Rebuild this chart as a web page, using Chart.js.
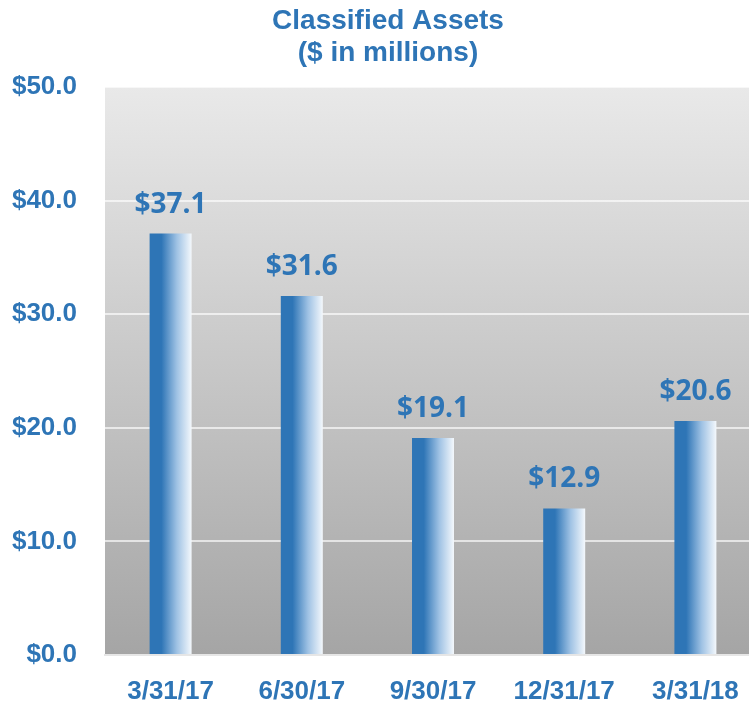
<!DOCTYPE html>
<html>
<head>
<meta charset="utf-8">
<script src="https://cdn.jsdelivr.net/npm/chart.js@4/dist/chart.umd.min.js"></script>
<style>
  html, body { margin: 0; padding: 0; background: #fff; overflow: hidden; }
  #wrap { width: 761px; height: 708px; }
</style>
</head>
<body>
<div id="wrap"><canvas id="grafica"></canvas></div>
<script>
// datos
var periodos = ['3/31/17', '6/30/17', '9/30/17', '12/31/17', '3/31/18'];
var activos = [37.1, 31.6, 19.1, 12.9, 20.6];
var tituloLineas = ['Classified Assets', '($ in millions)'];

var azul = '#2e75b6';
var anchoBarra = 0.32;
var fuenteEjes = '"Liberation Sans", Arial, sans-serif';

// fondo degradado gris del area del grafico
var fondoPlugin = {
    id: 'fondo',
    beforeDraw: function (chart) {
        var a = chart.chartArea, ctx = chart.ctx;
        var g = ctx.createLinearGradient(0, a.top, 0, a.bottom);
        g.addColorStop(0, '#e9e9e9');
        g.addColorStop(1, '#a5a5a5');
        ctx.save();
        ctx.fillStyle = g;
        ctx.fillRect(a.left, a.top, a.right - a.left, a.bottom - a.top);
        ctx.restore();
    }
};

// titulo + etiquetas de valor
var textosPlugin = {
    id: 'textos',
    afterDatasetsDraw: function (chart) {
        var ctx = chart.ctx;
        ctx.save();
        ctx.fillStyle = azul;
        ctx.textAlign = 'center';
        ctx.textBaseline = 'middle';
        ctx.font = 'bold 28px "Open Sans", "Noto Sans", sans-serif';
        chart.getDatasetMeta(0).data.forEach(function (bar, i) {
            ctx.fillText('$' + activos[i].toFixed(1), bar.x, bar.y - 29);
        });
        ctx.font = 'bold 28px ' + fuenteEjes;
        ctx.fillText(tituloLineas[0], 388, 21);
        ctx.fillText(tituloLineas[1], 388, 53);
        ctx.restore();
    }
};

// degradado horizontal azul -> blanco para cada barra
function colorBarra(c) {
    var x = c.chart.scales.x;
    if (!x || !x.width) return azul;
    var centro = x.getPixelForValue(c.dataIndex);
    var medio = x.width / periodos.length * anchoBarra / 2;
    var g = c.chart.ctx.createLinearGradient(centro - medio, 0, centro + medio, 0);
    g.addColorStop(0, azul);
    g.addColorStop(0.28, azul);
    g.addColorStop(0.65, '#9fc2e4');
    g.addColorStop(1, '#f4f8fc');
    return g;
}

var ctx = document.getElementById('grafica').getContext('2d');
var myChart = new Chart(ctx, {
    type: 'bar',
    data: {
        labels: periodos,
        datasets: [{
            data: activos,
            backgroundColor: colorBarra,
            borderWidth: 0,
            categoryPercentage: 1,
            barPercentage: anchoBarra
        }]
    },
    options: {
        responsive: true,
        maintainAspectRatio: false,
        animation: false,
        layout: { padding: { top: 87, left: 0, right: 0, bottom: 0 } },
        scales: {
            x: {
                grid: { display: false },
                border: { display: true, color: '#e6e6e6', width: 2 },
                ticks: {
                    color: azul,
                    padding: 13,
                    font: { family: fuenteEjes, size: 26, weight: 'bold' }
                },
                afterFit: function (s) { s.height = 53; }
            },
            y: {
                min: 0,
                max: 50,
                ticks: {
                    stepSize: 10,
                    color: azul,
                    padding: 28,
                    font: { family: fuenteEjes, size: 26, weight: 'bold' },
                    callback: function (v) { return '$' + Number(v).toFixed(1); }
                },
                grid: { color: 'rgba(255,255,255,0.65)', lineWidth: 2, drawTicks: false },
                border: { display: false },
                afterFit: function (s) { s.width = 105; }
            }
        },
        plugins: {
            legend: { display: false },
            tooltip: { enabled: false }
        }
    },
    plugins: [fondoPlugin, textosPlugin]
});
</script>
</body>
</html>
